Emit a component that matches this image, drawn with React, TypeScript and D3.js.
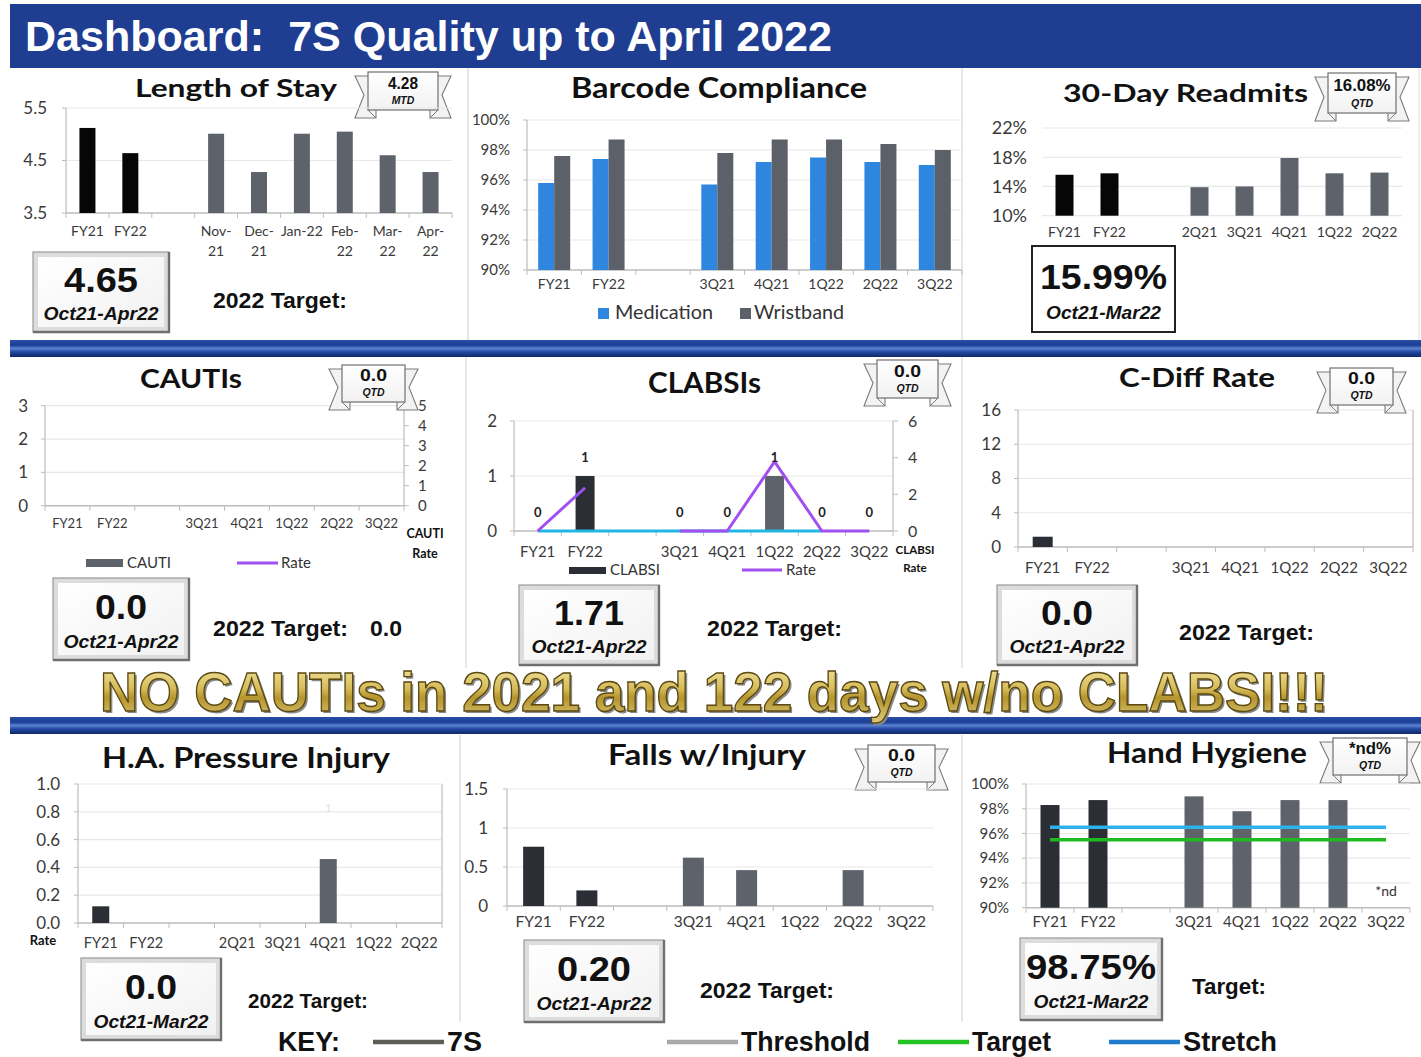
import React from "react";
import * as d3 from "d3";

type Val = number | null;

// ---------------- data ----------------
const losCategories = ["FY21", "FY22", "", "Nov-21", "Dec-21", "Jan-22", "Feb-22", "Mar-22", "Apr-22"];
const losTickLabels = ["FY21", "FY22", "", "Nov-|21", "Dec-|21", "Jan-22", "Feb-|22", "Mar-|22", "Apr-|22"];
const losValues: Val[] = [5.12, 4.64, null, 5.01, 4.28, 5.01, 5.05, 4.6, 4.28];
const losTicks = [3.5, 4.5, 5.5];

const qCategories = ["FY21", "FY22", "", "3Q21", "4Q21", "1Q22", "2Q22", "3Q22"];
const qPrevCategories = ["FY21", "FY22", "", "2Q21", "3Q21", "4Q21", "1Q22", "2Q22"];

const barcodeSeries = ["Medication", "Wristband"];
const barcodeMedication: Val[] = [95.8, 97.4, null, 95.7, 97.2, 97.5, 97.2, 97.0];
const barcodeWristband: Val[] = [97.6, 98.7, null, 97.8, 98.7, 98.7, 98.4, 98.0];
const barcodeTicks = [90, 92, 94, 96, 98, 100];

const readmitValues: Val[] = [15.6, 15.8, null, 13.9, 14.0, 17.9, 15.8, 15.9];
const readmitTicks = [10, 14, 18, 22];

const cautiCounts: Val[] = [0, 0, null, 0, 0, 0, 0, 0];
const cautiCountTicks = [0, 1, 2, 3];
const cautiRateTicks = [0, 1, 2, 3, 4, 5];

const clabsiCounts: Val[] = [0, 1, null, 0, 0, 1, 0, 0];
const clabsiRates: Val[] = [0, 2.36, null, 0, 0, 3.78, 0, 0];
const clabsiBaseline: Val[] = [0, 0, 0, 0, 0, 0, 0, null];
const clabsiCountTicks = [0, 1, 2];
const clabsiRateTicks = [0, 2, 4, 6];

const cdiffValues: Val[] = [1.2, 0, null, 0, 0, 0, 0, 0];
const cdiffTicks = [0, 4, 8, 12, 16];

const hapiValues: Val[] = [0.12, 0, null, 0, 0, 0.46, 0, 0];
const hapiTicks = [0, 0.2, 0.4, 0.6, 0.8, 1.0];

const fallsValues: Val[] = [0.76, 0.2, null, 0.62, 0.46, 0, 0.46, 0];
const fallsTicks = [0, 0.5, 1, 1.5];

const hhValues: Val[] = [98.3, 98.7, null, 99.0, 97.8, 98.7, 98.7, null];
const hhTarget: Val[] = [95.5, 95.5, 95.5, 95.5, 95.5, 95.5, 95.5, 95.5];
const hhStretch: Val[] = [96.5, 96.5, 96.5, 96.5, 96.5, 96.5, 96.5, 96.5];
const hhTicks = [90, 92, 94, 96, 98, 100];

const keyLabels = ["7S", "Threshold", "Target", "Stretch"];

// ---------------- styles ----------------
const FONT = "Lato";
const ARIAL = "Liberation Sans";
const BLACK = "#060606";
const DARK = "#2b2e34";
const GRAY = "#5d626b";
const AXIS = "#bdbdbd";
const GRID = "#e8e8e8";
const TICK_TXT = "#3a3a3a";
const PURPLE = "#a24ff0";
const CYAN = "#22b6e2";

interface Scales {
  xb: d3.ScaleBand<string>;
  y: d3.ScaleLinear<number, number>;
  yR: d3.ScaleLinear<number, number>;
  cx: (i: number) => number;
  bw: number;
}

interface ChartProps {
  left: number; right: number; top: number; bottom: number;
  cats: string[]; labels?: string[];
  domain: [number, number]; ticks: number[]; fmt: (v: number) => string;
  barW: number; yLabelRight: number; yFont: number; xFont: number; xDy: number; lineH?: number;
  axes?: boolean; rightLine?: boolean; gridBase?: boolean;
  rightAxis?: { domain: [number, number]; ticks: number[]; labelX: number; font: number };
  children?: (s: Scales) => React.ReactNode;
}

function Chart(p: ChartProps) {
  const { left, right, top, bottom, cats, domain, ticks, fmt, barW } = p;
  const n = cats.length;
  const step = (right - left) / n;
  const pad = 1 - barW / step;
  const xb = d3.scaleBand<string>().domain(cats.map((_, i) => String(i))).range([left, right]).paddingInner(pad).paddingOuter(pad / 2);
  const y = d3.scaleLinear().domain(domain).range([bottom, top]);
  const yR = p.rightAxis ? d3.scaleLinear().domain(p.rightAxis.domain).range([bottom, top]) : y;
  const cx = (i: number) => (xb(String(i)) ?? 0) + xb.bandwidth() / 2;
  const s: Scales = { xb, y, yR, cx, bw: xb.bandwidth() };
  const axes = p.axes !== false;
  const labels = p.labels ?? cats;
  const lineH = p.lineH ?? 19;
  return (
    <g>
      {ticks.filter((t) => p.gridBase || t !== domain[0]).map((t) => (
        <line key={"g" + t} x1={left} x2={right} y1={y(t)} y2={y(t)} stroke={GRID} strokeWidth={1.2} />
      ))}
      {axes && (
        <g>
          <line x1={left} x2={left} y1={top} y2={bottom} stroke={AXIS} strokeWidth={1.2} />
          {ticks.map((t) => (
            <line key={"yt" + t} x1={left - 4} x2={left} y1={y(t)} y2={y(t)} stroke={AXIS} />
          ))}
          <line x1={left} x2={right} y1={bottom} y2={bottom} stroke={AXIS} strokeWidth={1.6} />
          {d3.range(n + 1).map((i) => (
            <line key={"xt" + i} x1={left + i * step} x2={left + i * step} y1={bottom} y2={bottom + 5} stroke={AXIS} />
          ))}
        </g>
      )}
      {p.rightLine && <line x1={right} x2={right} y1={top} y2={bottom} stroke={AXIS} strokeWidth={1.2} />}
      {p.rightAxis && (
        <g>
          <line x1={right} x2={right} y1={top} y2={bottom} stroke={AXIS} strokeWidth={1.2} />
          {p.rightAxis.ticks.map((t) => (
            <line key={"rt" + t} x1={right} x2={right + 5} y1={yR(t)} y2={yR(t)} stroke={AXIS} />
          ))}
          {p.rightAxis.ticks.map((t) => (
            <text key={"rl" + t} x={p.rightAxis!.labelX} y={yR(t)} dy="0.35em" fontSize={p.rightAxis!.font} fontFamily={FONT} fill={TICK_TXT}>
              {String(t)}
            </text>
          ))}
        </g>
      )}
      {ticks.map((t) => (
        <text key={"yl" + t} x={p.yLabelRight} y={y(t)} dy="0.35em" textAnchor="end" fontSize={p.yFont} fontFamily={FONT} fill={TICK_TXT}>
          {fmt(t)}
        </text>
      ))}
      {labels.map((lab, i) =>
        lab.split("|").map((ln, j) => (
          <text key={"xl" + i + "_" + j} x={cx(i)} y={bottom + p.xDy + j * lineH} textAnchor="middle" fontSize={p.xFont} fontFamily={FONT} fill={TICK_TXT}>
            {ln}
          </text>
        ))
      )}
      {p.children && p.children(s)}
    </g>
  );
}

function Bars({ s, values, color, x0 = 0, w }: { s: Scales; values: Val[]; color: (i: number) => string; x0?: number; w?: number }) {
  const base = s.y.domain()[0];
  return (
    <g>
      {values.map((v, i) =>
        v == null || v <= base ? null : (
          <rect key={i} x={(s.xb(String(i)) ?? 0) + x0} y={s.y(v)} width={w ?? s.bw} height={s.y(base) - s.y(v)} fill={color(i)} />
        )
      )}
    </g>
  );
}

function Txt(props: {
  x: number; y: number; w?: number; size: number; family?: string; weight?: string; italic?: boolean;
  anchor?: "start" | "middle" | "end"; fill?: string; children: React.ReactNode; pre?: boolean;
}) {
  return (
    <text
      x={props.x}
      y={props.y}
      fontSize={props.size}
      fontFamily={props.family ?? ARIAL}
      fontWeight={props.weight ?? "bold"}
      fontStyle={props.italic ? "italic" : "normal"}
      textAnchor={props.anchor ?? "start"}
      fill={props.fill ?? "#111"}
      textLength={props.w}
      lengthAdjust={props.w ? "spacingAndGlyphs" : undefined}
      style={props.pre ? { whiteSpace: "pre" } : undefined}
    >
      {props.children}
    </text>
  );
}

function Title({ x, y, w, size, text }: { x: number; y: number; w: number; size: number; text: string }) {
  return <Txt x={x} y={y} w={w} size={size} family={FONT}>{text}</Txt>;
}

function Badge({ x, y, w, h, value, vw, sub = "QTD" }: { x: number; y: number; w: number; h: number; value: string; vw: number; sub?: string }) {
  const t = 13;
  const left = `${x + 8},${y + 4} ${x - t},${y + 4} ${x - t + 9},${y + h * 0.55 + 2} ${x - t},${y + h + 8} ${x + 8},${y + h + 8}`;
  const right = `${x + w - 8},${y + 4} ${x + w + t},${y + 4} ${x + w + t - 9},${y + h * 0.55 + 2} ${x + w + t},${y + h + 8} ${x + w - 8},${y + h + 8}`;
  return (
    <g>
      <polygon points={left} fill="#f3f3f3" stroke="#7a7a7a" strokeWidth={1.1} />
      <polygon points={right} fill="#f3f3f3" stroke="#7a7a7a" strokeWidth={1.1} />
      <path d={`M${x},${y + h} L${x + 8},${y + h + 8} M${x + w},${y + h} L${x + w - 8},${y + h + 8}`} stroke="#7a7a7a" strokeWidth={1} />
      <rect x={x} y={y} width={w} height={h} fill="url(#badgeGrad)" stroke="#7a7a7a" strokeWidth={1.3} />
      <Txt x={x + w / 2} y={y + h * 0.44} w={vw} size={16} anchor="middle">{value}</Txt>
      <Txt x={x + w / 2} y={y + h * 0.84} size={10.5} italic anchor="middle">{sub}</Txt>
    </g>
  );
}

function KpiBox({ x, y, w, h, value, vw, sub, plain }: { x: number; y: number; w: number; h: number; value: string; vw: number; sub: string; plain?: boolean }) {
  return (
    <g>
      {plain ? (
        <rect x={x} y={y} width={w} height={h} fill="#fff" stroke="#222" strokeWidth={2} />
      ) : (
        <g>
          <rect x={x} y={y} width={w} height={h} fill="#dcdcdc" stroke="#9a9a9a" strokeWidth={1.2} />
          <rect x={x + 5} y={y + 5} width={w - 10} height={h - 10} fill="url(#kpiGrad)" />
          <path d={`M${x + w},${y} L${x + w},${y + h} L${x},${y + h}`} fill="none" stroke="#6f6f6f" strokeWidth={2.4} />
        </g>
      )}
      <Txt x={x + w / 2} y={y + h * 0.5} w={vw} size={35} anchor="middle">{value}</Txt>
      <Txt x={x + w / 2} y={y + h * 0.85} w={115} size={19} italic anchor="middle">{sub}</Txt>
    </g>
  );
}

const fyColor = (dark: string) => (i: number) => (i < 2 ? dark : GRAY);

export default function App() {
  const keyX = [373, 667, 898, 1109];
  const keyColors = ["#5b5f58", "#a8a8a8", "#22c322", "#1f7ccc"];
  const keyTextW = [35, 129, 79, 94];
  const banner = "NO CAUTIs in 2021 and 122 days w/no CLABSI!!!";
  return (
    <svg width={1421} height={1057} style={{ position: "absolute", left: 0, top: 0, background: "#fff" }}>
      <defs>
        <linearGradient id="sepGrad" x1="0" y1="0" x2="0" y2="1">
          <stop offset="0" stopColor="#2a4fa6" />
          <stop offset="0.3" stopColor="#1c3d95" />
          <stop offset="0.5" stopColor="#5a82cf" />
          <stop offset="0.7" stopColor="#2349a3" />
          <stop offset="1" stopColor="#0f2766" />
        </linearGradient>
        <linearGradient id="goldGrad" x1="0" y1="0" x2="0" y2="1">
          <stop offset="0" stopColor="#f8ecb0" />
          <stop offset="0.45" stopColor="#d6bc5a" />
          <stop offset="0.6" stopColor="#b5952e" />
          <stop offset="1" stopColor="#ddc97c" />
        </linearGradient>
        <linearGradient id="kpiGrad" x1="0" y1="0" x2="1" y2="1">
          <stop offset="0" stopColor="#ffffff" />
          <stop offset="1" stopColor="#f1f1f1" />
        </linearGradient>
        <linearGradient id="badgeGrad" x1="0" y1="0" x2="0" y2="1">
          <stop offset="0" stopColor="#ffffff" />
          <stop offset="1" stopColor="#f2f2f2" />
        </linearGradient>
      </defs>
      <rect x={0} y={0} width={1421} height={1057} fill="#fff" />

      {/* header */}
      <rect x={10} y={4} width={1411} height={64} fill="#1f3e92" />
      <Txt x={25} y={51} w={807} size={42} fill="#fff" pre>{"Dashboard:  7S Quality up to April 2022"}</Txt>

      {/* dividers */}
      <line x1={468} x2={468} y1={68} y2={340} stroke="#cfcfcf" />
      <line x1={962} x2={962} y1={68} y2={340} stroke="#cfcfcf" />
      <line x1={1419} x2={1419} y1={68} y2={340} stroke="#dcdcdc" />
      <line x1={466} x2={466} y1={357} y2={668} stroke="#cfcfcf" />
      <line x1={962} x2={962} y1={357} y2={668} stroke="#cfcfcf" />
      <line x1={460} x2={460} y1={735} y2={1022} stroke="#cfcfcf" />
      <line x1={962} x2={962} y1={735} y2={1022} stroke="#cfcfcf" />
      <rect x={10} y={340} width={1411} height={17} fill="url(#sepGrad)" />
      <rect x={10} y={717} width={1411} height={17} fill="url(#sepGrad)" />

      {/* ---------- Length of Stay ---------- */}
      <Title x={135} y={97} w={202} size={25} text="Length of Stay" />
      <Badge x={368} y={72} w={70} h={38} value="4.28" vw={30} sub="MTD" />
      <Chart left={66} right={452} top={108} bottom={213} cats={losCategories} labels={losTickLabels}
        domain={[3.5, 5.5]} ticks={losTicks} fmt={(d) => d.toFixed(1)} barW={16}
        yLabelRight={47} yFont={17} xFont={14} xDy={23} lineH={20}>
        {(s) => <Bars s={s} values={losValues} color={fyColor(BLACK)} />}
      </Chart>
      <KpiBox x={33} y={252} w={136} h={80} value="4.65" vw={74} sub="Oct21-Apr22" />
      <Txt x={213} y={308} w={134} size={22}>2022 Target:</Txt>

      {/* ---------- Barcode Compliance ---------- */}
      <Title x={571} y={98} w={296} size={28} text="Barcode Compliance" />
      <Chart left={527} right={962} top={120} bottom={270} cats={qCategories}
        domain={[90, 100]} ticks={barcodeTicks} fmt={(d) => d + "%"} barW={32}
        yLabelRight={510} yFont={15} xFont={14} xDy={19}>
        {(s) => (
          <g>
            <Bars s={s} values={barcodeMedication} color={() => "#2e86de"} w={s.bw / 2} />
            <Bars s={s} values={barcodeWristband} color={() => "#5c6068"} x0={s.bw / 2} w={s.bw / 2} />
          </g>
        )}
      </Chart>
      <rect x={598} y={308} width={11} height={11} fill="#2e86de" />
      <Txt x={615} y={319} w={98} size={19} family={FONT} weight="normal" fill="#333">{barcodeSeries[0]}</Txt>
      <rect x={740} y={308} width={11} height={11} fill="#5c6068" />
      <Txt x={754} y={319} w={90} size={19} family={FONT} weight="normal" fill="#333">{barcodeSeries[1]}</Txt>

      {/* ---------- 30-Day Readmits ---------- */}
      <Title x={1063} y={102} w={245} size={25} text="30-Day Readmits" />
      <Badge x={1328} y={73} w={68} h={40} value="16.08%" vw={57} />
      <Chart left={1042} right={1402} top={128} bottom={215.7} cats={qPrevCategories}
        domain={[10, 22]} ticks={readmitTicks} fmt={(d) => d + "%"} barW={18} axes={false} gridBase
        yLabelRight={1027} yFont={18} xFont={14} xDy={21}>
        {(s) => <Bars s={s} values={readmitValues} color={fyColor(BLACK)} />}
      </Chart>
      <KpiBox x={1032} y={246} w={143} h={86} value="15.99%" vw={127} sub="Oct21-Mar22" plain />

      {/* ---------- CAUTIs ---------- */}
      <Title x={140} y={388} w={102} size={26} text="CAUTIs" />
      <Chart left={45} right={404} top={405.7} bottom={505.7} cats={qCategories}
        domain={[0, 3]} ticks={cautiCountTicks} fmt={(d) => String(d)} barW={18}
        rightAxis={{ domain: [0, 5], ticks: cautiRateTicks, labelX: 418, font: 15 }}
        yLabelRight={28} yFont={17} xFont={13} xDy={22}>
        {(s) => <Bars s={s} values={cautiCounts} color={fyColor(DARK)} />}
      </Chart>
      <Badge x={342} y={365} w={63} h={37} value="0.0" vw={27} />
      <Txt x={425} y={538} size={12.5} family={FONT} anchor="middle">CAUTI</Txt>
      <Txt x={425} y={558} size={12.5} family={FONT} anchor="middle">Rate</Txt>
      <rect x={86} y={559} width={37} height={8} fill={GRAY} />
      <Txt x={127} y={568} size={15} family={FONT} weight="normal" fill="#333">CAUTI</Txt>
      <line x1={237} x2={278} y1={563} y2={563} stroke={PURPLE} strokeWidth={3} />
      <Txt x={281} y={568} size={15} family={FONT} weight="normal" fill="#333">Rate</Txt>
      <KpiBox x={53} y={578} w={136} h={82} value="0.0" vw={52} sub="Oct21-Apr22" />
      <Txt x={213} y={636} w={135} size={22}>2022 Target:</Txt>
      <Txt x={370} y={636} w={32} size={22}>0.0</Txt>

      {/* ---------- CLABSIs ---------- */}
      <Title x={648} y={393} w={113} size={28} text="CLABSIs" />
      <Badge x={877} y={360} w={61} h={38} value="0.0" vw={27} />
      <Chart left={514} right={893} top={421} bottom={531} cats={qCategories}
        domain={[0, 2]} ticks={clabsiCountTicks} fmt={(d) => String(d)} barW={19}
        rightAxis={{ domain: [0, 6], ticks: clabsiRateTicks, labelX: 908, font: 16 }}
        yLabelRight={497} yFont={17} xFont={15} xDy={26}>
        {(s) => {
          const line = d3.line<Val>().defined((v) => v != null).x((_, i) => s.cx(i)).y((v) => s.yR(v as number));
          return (
            <g>
              <Bars s={s} values={clabsiCounts} color={fyColor(DARK)} />
              <path d={line(clabsiBaseline) ?? ""} fill="none" stroke={CYAN} strokeWidth={3} />
              <path d={line(clabsiRates) ?? ""} fill="none" stroke={PURPLE} strokeWidth={3} strokeLinejoin="round" />
              {clabsiCounts.map((v, i) =>
                v == null ? null : (
                  <text key={"dl" + i} x={s.cx(i)} y={s.y(v) - 14} textAnchor="middle" fontSize={13} fontWeight="bold" fontFamily={FONT} fill="#222">
                    {String(v)}
                  </text>
                )
              )}
            </g>
          );
        }}
      </Chart>
      <Txt x={915} y={554} size={11.5} family={FONT} anchor="middle">CLABSI</Txt>
      <Txt x={915} y={572} size={11.5} family={FONT} anchor="middle">Rate</Txt>
      <rect x={569} y={567} width={37} height={7} fill={DARK} />
      <Txt x={610} y={575} size={15} family={FONT} weight="normal" fill="#333">CLABSI</Txt>
      <line x1={742} x2={782} y1={570} y2={570} stroke={PURPLE} strokeWidth={3} />
      <Txt x={786} y={575} size={15} family={FONT} weight="normal" fill="#333">Rate</Txt>
      <KpiBox x={519} y={585} w={140} h={80} value="1.71" vw={70} sub="Oct21-Apr22" />
      <Txt x={707} y={636} w={135} size={22}>2022 Target:</Txt>

      {/* ---------- C-Diff Rate ---------- */}
      <Title x={1119} y={387} w={156} size={26} text="C-Diff Rate" />
      <Chart left={1018} right={1413} top={410} bottom={547} cats={qCategories}
        domain={[0, 16]} ticks={cdiffTicks} fmt={(d) => String(d)} barW={20} rightLine
        yLabelRight={1001} yFont={17} xFont={15} xDy={26}>
        {(s) => <Bars s={s} values={cdiffValues} color={fyColor(DARK)} />}
      </Chart>
      <Badge x={1330} y={368} w={63} h={37} value="0.0" vw={27} />
      <KpiBox x={997} y={585} w={140} h={80} value="0.0" vw={52} sub="Oct21-Apr22" />
      <Txt x={1179} y={640} w={135} size={22}>2022 Target:</Txt>

      {/* ---------- banner ---------- */}
      <Txt x={102} y={713} w={1228} size={56} fill="#8a8a8a">{banner}</Txt>
      <text x={100} y={711} fontSize={56} fontFamily={ARIAL} fontWeight="bold" fill="url(#goldGrad)" stroke="#5a4912" strokeWidth={1.4}
        textLength={1228} lengthAdjust="spacingAndGlyphs">
        {banner}
      </text>

      {/* ---------- H.A. Pressure Injury ---------- */}
      <Title x={102} y={768} w={288} size={28} text="H.A. Pressure Injury" />
      <Chart left={78} right={442} top={784} bottom={923} cats={qPrevCategories}
        domain={[0, 1]} ticks={hapiTicks} fmt={(d) => d.toFixed(1)} barW={17} rightLine
        yLabelRight={60} yFont={17} xFont={14.5} xDy={25}>
        {(s) => (
          <g>
            <Bars s={s} values={hapiValues} color={fyColor(DARK)} />
            <text x={s.cx(5)} y={812} textAnchor="middle" fontSize={12} fontFamily={FONT} fill="#e2e2e2">1</text>
          </g>
        )}
      </Chart>
      <Txt x={43} y={945} size={13} family={FONT} anchor="middle">Rate</Txt>
      <KpiBox x={81} y={958} w={140} h={82} value="0.0" vw={52} sub="Oct21-Mar22" />
      <Txt x={248} y={1008} w={120} size={21}>2022 Target:</Txt>

      {/* ---------- Falls w/Injury ---------- */}
      <Title x={608} y={765} w={198} size={28} text="Falls w/Injury" />
      <Badge x={868} y={745} w={67} h={37} value="0.0" vw={27} />
      <Chart left={507} right={933} top={789} bottom={906} cats={qCategories}
        domain={[0, 1.5]} ticks={fallsTicks} fmt={(d) => String(d)} barW={21}
        yLabelRight={488} yFont={17} xFont={15.5} xDy={21}>
        {(s) => <Bars s={s} values={fallsValues} color={fyColor(DARK)} />}
      </Chart>
      <KpiBox x={524} y={940} w={140} h={82} value="0.20" vw={74} sub="Oct21-Apr22" />
      <Txt x={700} y={998} w={134} size={22}>2022 Target:</Txt>

      {/* ---------- Hand Hygiene ---------- */}
      <Title x={1107} y={763} w={200} size={28} text="Hand Hygiene" />
      <Badge x={1333} y={738} w={74} h={37} value="*nd%" vw={42} />
      <Chart left={1026} right={1410} top={784} bottom={907.7} cats={qCategories}
        domain={[90, 100]} ticks={hhTicks} fmt={(d) => d + "%"} barW={19}
        yLabelRight={1009} yFont={15} xFont={15} xDy={19}>
        {(s) => {
          const line = d3.line<Val>().defined((v) => v != null).x((_, i) => s.cx(i)).y((v) => s.y(v as number));
          return (
            <g>
              <Bars s={s} values={hhValues} color={fyColor(DARK)} />
              <path d={line(hhStretch) ?? ""} fill="none" stroke="#2fb2ec" strokeWidth={3.5} />
              <path d={line(hhTarget) ?? ""} fill="none" stroke="#1fba1f" strokeWidth={3.5} />
              <text x={s.cx(7)} y={896} textAnchor="middle" fontSize={14} fontFamily={FONT} fill="#333">*nd</text>
            </g>
          );
        }}
      </Chart>
      <KpiBox x={1020} y={938} w={142} h={82} value="98.75%" vw={130} sub="Oct21-Mar22" />
      <Txt x={1192} y={994} w={74} size={22}>Target:</Txt>

      {/* ---------- key ---------- */}
      <Txt x={278} y={1051} w={62} size={28}>KEY:</Txt>
      {keyLabels.map((k, i) => (
        <g key={k}>
          <line x1={keyX[i]} x2={keyX[i] + 71} y1={1042} y2={1042} stroke={keyColors[i]} strokeWidth={4.5} />
          <Txt x={keyX[i] + 74} y={1051} w={keyTextW[i]} size={28}>{k}</Txt>
        </g>
      ))}
    </svg>
  );
}
